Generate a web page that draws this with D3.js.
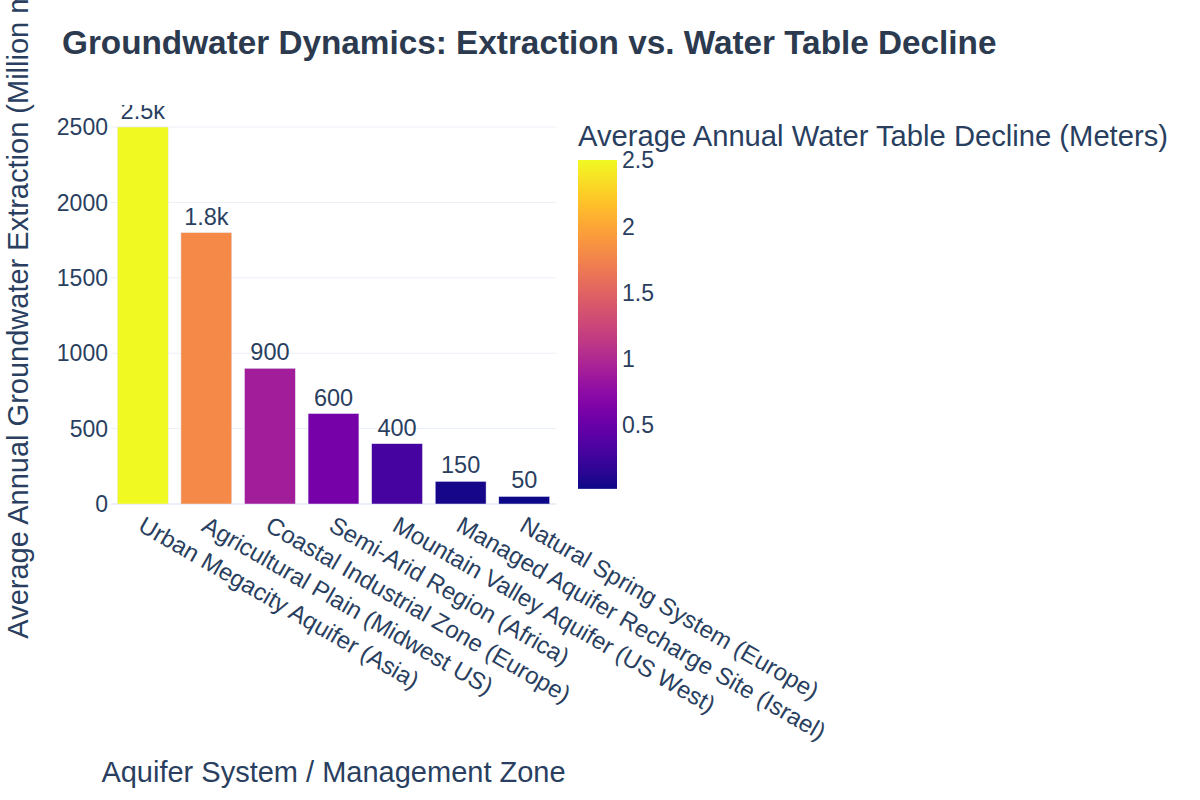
<!DOCTYPE html>
<html>
<head>
<meta charset="utf-8">
<script src="https://cdn.jsdelivr.net/npm/d3@7"></script>
<style>
    body { margin: 0; background: #fff; }
    text { font-family: "Liberation Sans", Arial, sans-serif; }
</style>
</head>
<body>
<script>
// data
const categories = [
    "Urban Megacity Aquifer (Asia)",
    "Agricultural Plain (Midwest US)",
    "Coastal Industrial Zone (Europe)",
    "Semi-Arid Region (Africa)",
    "Mountain Valley Aquifer (US West)",
    "Managed Aquifer Recharge Site (Israel)",
    "Natural Spring System (Europe)"
];
const extraction = [2500, 1800, 900, 600, 400, 150, 50];
const decline = [2.5, 1.8, 0.9, 0.6, 0.3, 0.05, 0.02];
const yTicks = [0, 500, 1000, 1500, 2000, 2500];
const cbTicks = [0.5, 1, 1.5, 2, 2.5];

const svgWidth = 1200;
const svgHeight = 800;
const plot = {left: 111, right: 556, top: 105, bottom: 504};
const textColor = "#2a3f5f";
const gridColor = "#EBF0F8";

window.onload = main;

function main() {
    const svg = d3.select("body")
        .append("svg")
        .attr("width", svgWidth)
        .attr("height", svgHeight);

    const x = d3.scaleBand()
        .domain(categories)
        .range([plot.left, plot.right])
        .paddingInner(0.2)
        .paddingOuter(0.1);

    const y = d3.scaleLinear()
        .domain([0, 2646])
        .range([plot.bottom, plot.top]);

    const color = d3.scaleSequential(d3.interpolatePlasma)
        .domain([d3.min(decline), d3.max(decline)]);

    // clip for the plot area (bar text gets cut at the top)
    svg.append("clipPath").attr("id", "plotClip")
        .append("rect")
        .attr("x", plot.left)
        .attr("y", plot.top)
        .attr("width", plot.right - plot.left)
        .attr("height", plot.bottom - plot.top);

    // gridlines
    svg.append("g")
        .selectAll("line")
        .data(yTicks)
        .join("line")
        .attr("x1", plot.left)
        .attr("x2", plot.right)
        .attr("y1", d => y(d))
        .attr("y2", d => y(d))
        .attr("stroke", gridColor)
        .attr("stroke-width", d => d === 0 ? 2 : 1);

    // y tick labels
    svg.append("g")
        .selectAll("text")
        .data(yTicks)
        .join("text")
        .attr("x", plot.left - 3)
        .attr("y", d => y(d))
        .attr("dy", "0.36em")
        .attr("text-anchor", "end")
        .attr("fill", textColor)
        .style("font-size", "23px")
        .text(d => d);

    const rows = categories.map((c, i) => ({cat: c, value: extraction[i], decline: decline[i]}));

    const plotG = svg.append("g").attr("clip-path", "url(#plotClip)");

    plotG.selectAll("rect")
        .data(rows)
        .join("rect")
        .attr("x", d => x(d.cat))
        .attr("width", x.bandwidth())
        .attr("y", d => y(d.value))
        .attr("height", d => y(0) - y(d.value))
        .attr("fill", d => color(d.decline))
        .attr("stroke", "#E5ECF6")
        .attr("stroke-width", 0.5);

    const fmt = d3.format("~s");
    plotG.selectAll("text")
        .data(rows)
        .join("text")
        .attr("x", d => x(d.cat) + x.bandwidth() / 2)
        .attr("y", d => y(d.value) - 8)
        .attr("text-anchor", "middle")
        .attr("fill", textColor)
        .style("font-size", "23.5px")
        .text(d => fmt(d.value));

    // x tick labels, rotated 30deg
    svg.append("g")
        .selectAll("text")
        .data(categories)
        .join("text")
        .attr("transform", d => `translate(${x(d) + x.bandwidth() / 2 - 6}, ${plot.bottom + 26}) rotate(30)`)
        .attr("fill", textColor)
        .style("font-size", "24px")
        .text(d => d);

    // axis titles
    svg.append("text")
        .attr("x", (plot.left + plot.right) / 2)
        .attr("y", 782)
        .attr("text-anchor", "middle")
        .attr("fill", textColor)
        .style("font-size", "29px")
        .text("Aquifer System / Management Zone");

    svg.append("text")
        .attr("transform", `translate(28, ${(plot.top + plot.bottom) / 2}) rotate(-90)`)
        .attr("text-anchor", "middle")
        .attr("fill", textColor)
        .style("font-size", "29px")
        .text("Average Annual Groundwater Extraction (Million m³)");

    // title
    svg.append("text")
        .attr("x", 62)
        .attr("y", 54)
        .attr("fill", "#2c3a4f")
        .style("font-size", "33.3px")
        .style("font-weight", "bold")
        .text("Groundwater Dynamics: Extraction vs. Water Table Decline");

    create_colorbar(svg, color);
}

function create_colorbar(svg, color) {
    const cb = {x: 578, width: 39, top: 160};
    const [cmin, cmax] = color.domain();
    const cy = d3.scaleLinear()
        .domain([cmin, cmax])
        .range([cb.top + (cmax - cmin) * 132.6, cb.top]);

    const grad = svg.append("defs")
        .append("linearGradient")
        .attr("id", "cbGrad")
        .attr("x1", 0).attr("x2", 0)
        .attr("y1", 1).attr("y2", 0);
    grad.selectAll("stop")
        .data(d3.range(0, 1.0001, 0.05))
        .join("stop")
        .attr("offset", d => d)
        .attr("stop-color", d => color(cmin + d * (cmax - cmin)));

    svg.append("rect")
        .attr("x", cb.x)
        .attr("y", cy(cmax))
        .attr("width", cb.width)
        .attr("height", cy(cmin) - cy(cmax))
        .attr("fill", "url(#cbGrad)");

    svg.append("g")
        .selectAll("text")
        .data(cbTicks)
        .join("text")
        .attr("x", cb.x + cb.width + 5)
        .attr("y", d => cy(d))
        .attr("dy", "0.36em")
        .attr("fill", textColor)
        .style("font-size", "23px")
        .text(d => d);

    svg.append("text")
        .attr("x", cb.x)
        .attr("y", 146)
        .attr("fill", textColor)
        .style("font-size", "29.2px")
        .text("Average Annual Water Table Decline (Meters)");
}
</script>
</body>
</html>
